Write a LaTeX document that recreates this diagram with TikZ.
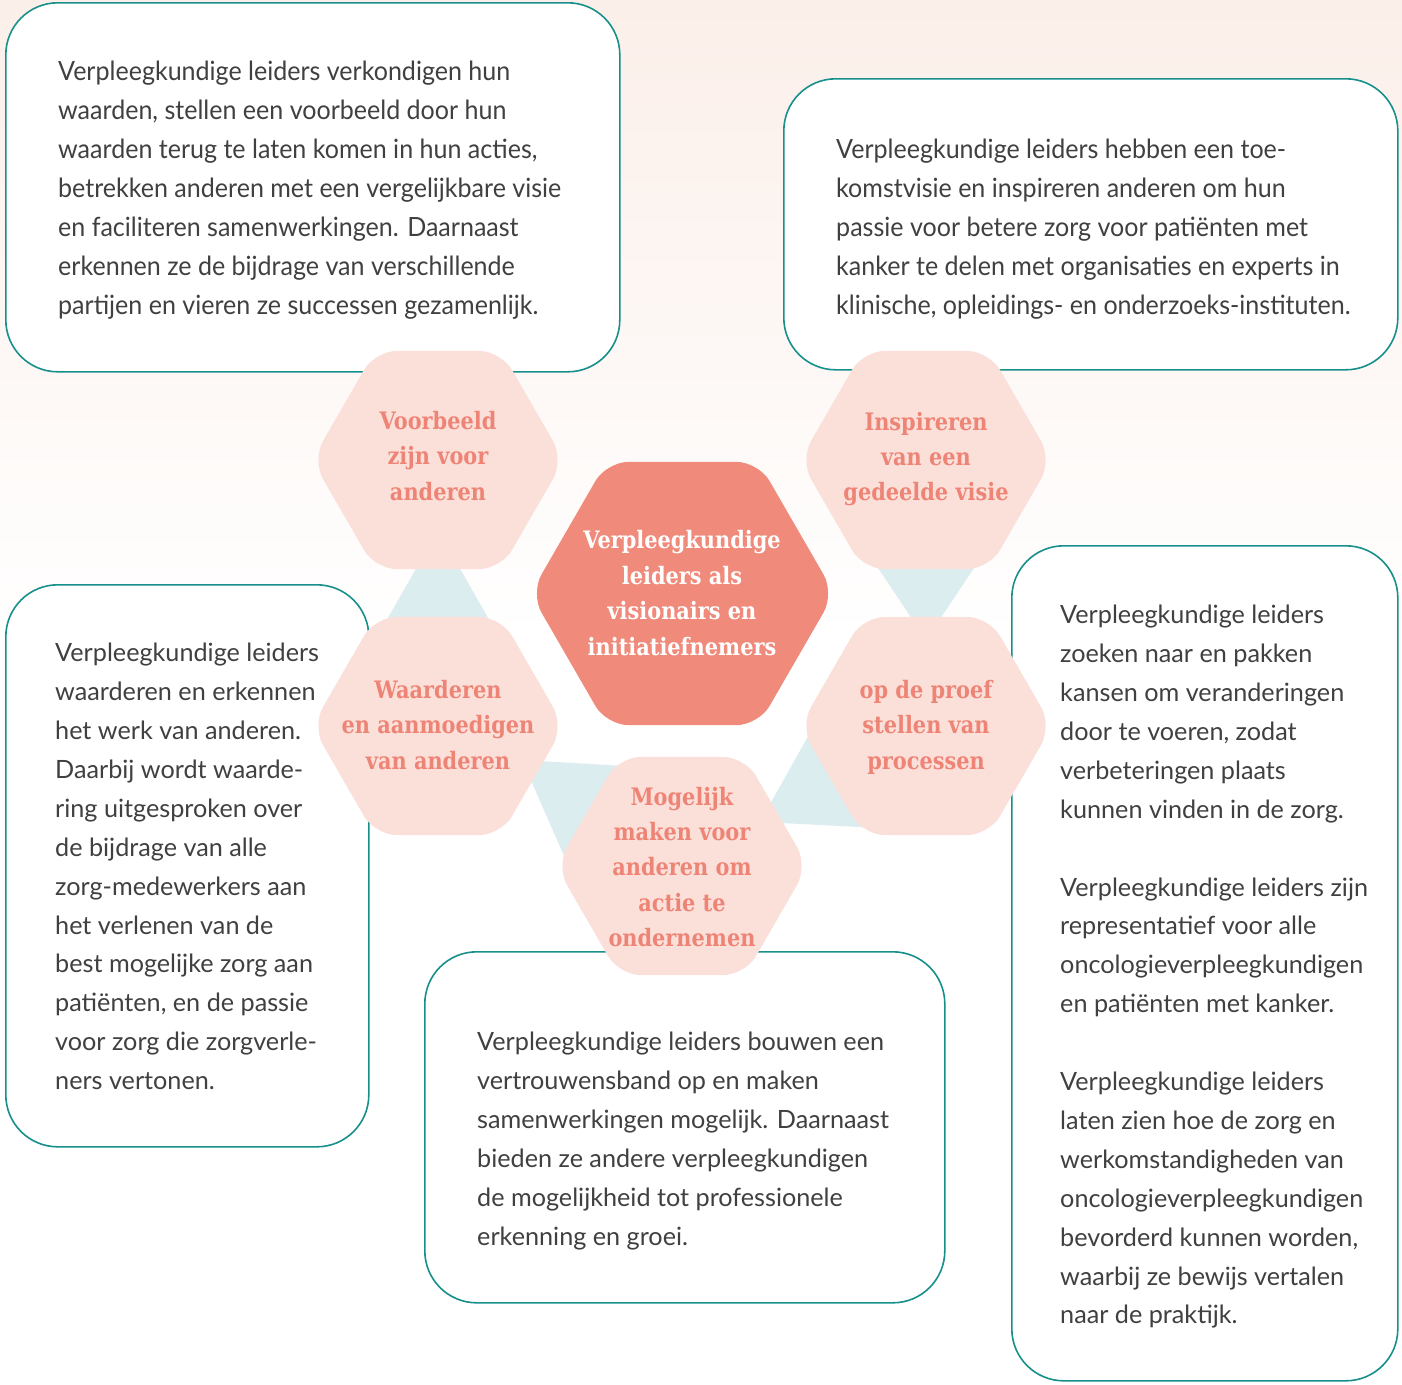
\documentclass[tikz,border=0pt]{standalone}
\usepackage{fontspec}
\setmainfont{Lato}
\newfontfamily\narrowfont[FakeStretch=0.945]{Lato}
\newfontfamily\hexfont[FakeStretch=0.87]{DejaVu Serif}
\definecolor{bgtop}{HTML}{FBEFE9}
\definecolor{hexpink}{HTML}{FBE0DA}
\definecolor{hextxt}{HTML}{EE8476}
\definecolor{hexcore}{HTML}{F08A7B}
\definecolor{connblue}{HTML}{DCEDEF}
\definecolor{tealline}{HTML}{17908B}
\definecolor{bodytxt}{HTML}{404040}
\tikzset{
  infobox/.style={draw=tealline, line width=1.6pt, fill=white, rounded corners=52pt, inner sep=0pt, anchor=north west},
  body/.style={anchor=north west, inner sep=0pt, align=left, text=bodytxt, font=\fontsize{25.2}{38.9}\selectfont},
  bodynarrow/.style={body, font=\narrowfont\fontsize{26.5}{38.9}\selectfont},
  hexlabel/.style={align=center, inner sep=0pt, text=hextxt, font=\hexfont\bfseries\fontsize{24}{35.4}\selectfont},
  corelabel/.style={hexlabel, text=white},
  hexlight/.style={fill=hexpink, rounded corners=22pt},
  hexdark/.style={fill=hexcore, rounded corners=22pt},
  conn/.style={fill=connblue},
}
\newcommand\myhex[3]{\fill[#3] (#1) +(90:#2*0.8660) -- +(60:#2) -- +(0:#2) -- +(-60:#2) -- +(-120:#2) -- +(180:#2) -- +(120:#2) -- cycle;}
\begin{document}
\begin{tikzpicture}[x=1pt,y=-1pt]
\useasboundingbox (0,0) rectangle (1402,1384);
\fill[white] (0,0) rectangle (1402,1384);
\shade[top color=bgtop, bottom color=white] (0,0) rectangle (1402,640);

% hexagon centres
\coordinate (cV) at (438,460);
\coordinate (cI) at (926,460);
\coordinate (cC) at (682.5,593.5);
\coordinate (cW) at (438,726);
\coordinate (cP) at (926,726);
\coordinate (cM) at (682,866);

% boxes
\node[infobox, minimum width=614pt, minimum height=369pt] (boxTL) at (5,2) {};
\node[infobox, minimum width=614pt, minimum height=291pt] (boxTR) at (783,78) {};
\node[infobox, minimum width=363pt, minimum height=562pt] (boxL) at (5,584) {};
\node[infobox, minimum width=520pt, minimum height=351pt] (boxB) at (424,951) {};
\node[infobox, minimum width=386pt, minimum height=835pt] (boxR) at (1011,545) {};

% connectors
\fill[conn] (438,530) -- (364,660) -- (512,660) -- cycle;
\fill[conn] (926,640) -- (846,520) -- (1006,520) -- cycle;
\fill[conn] (522,760) -- (660,768) -- (590,915) -- cycle;
\fill[conn] (834,690) -- (760,822) -- (880,828) -- cycle;

% hexagons
\myhex{cV}{126}{hexlight}
\myhex{cI}{126}{hexlight}
\myhex{cW}{126}{hexlight}
\myhex{cP}{126}{hexlight}
\myhex{cM}{126}{hexlight}
\myhex{cC}{152}{hexdark}

% hexagon labels
\node[hexlabel] (tV) at (438,456) {Voorbeeld\\zijn voor\\anderen};
\node[hexlabel] (tI) at (926,459) {Inspireren\\van een\\gedeelde visie};
\node[hexlabel] (tW) at (438,725) {Waarderen\\en aanmoedigen\\van anderen};
\node[hexlabel] (tP) at (926,727) {op de proef\\stellen van\\processen};
\node[hexlabel] (tM) at (682,867) {Mogelijk\\maken voor\\anderen om\\actie te\\ondernemen};
\node[corelabel] (tC) at (682,593) {Verpleegkundige\\leiders als\\visionairs en\\initiatiefnemers};

% box texts
\node[bodynarrow] (xTL) at (58,61) {Verpleegkundige leiders verkondigen hun\\waarden, stellen een voorbeeld door hun\\waarden terug te laten komen in hun acties,\\betrekken anderen met een vergelijkbare visie\\en faciliteren samenwerkingen. Daarnaast\\erkennen ze de bijdrage van verschillende\\partijen en vieren ze successen gezamenlijk.};
\node[bodynarrow] (xTR) at (836,139) {Verpleegkundige leiders hebben een toe-\\komstvisie en inspireren anderen om hun\\passie voor betere zorg voor patiënten met\\kanker te delen met organisaties en experts in\\klinische, opleidings- en onderzoeks-instituten.};
\node[body] (xL) at (55,643) {Verpleegkundige leiders\\waarderen en erkennen\\het werk van anderen.\\Daarbij wordt waarde-\\ring uitgesproken over\\de bijdrage van alle\\zorg-medewerkers aan\\het verlenen van de\\best mogelijke zorg aan\\patiënten, en de passie\\voor zorg die zorgverle-\\ners vertonen.};
\node[body] (xB) at (477,1032) {Verpleegkundige leiders bouwen een\\vertrouwensband op en maken\\samenwerkingen mogelijk. Daarnaast\\bieden ze andere verpleegkundigen\\de mogelijkheid tot professionele\\erkenning en groei.};
\node[body] (xR) at (1060,605) {Verpleegkundige leiders\\zoeken naar en pakken\\kansen om veranderingen\\door te voeren, zodat\\verbeteringen plaats\\kunnen vinden in de zorg.\\[38.9pt]Verpleegkundige leiders zijn\\representatief voor alle\\oncologieverpleegkundigen\\en patiënten met kanker.\\[38.9pt]Verpleegkundige leiders\\laten zien hoe de zorg en\\werkomstandigheden van\\oncologieverpleegkundigen\\bevorderd kunnen worden,\\waarbij ze bewijs vertalen\\naar de praktijk.};
\end{tikzpicture}
\end{document}
